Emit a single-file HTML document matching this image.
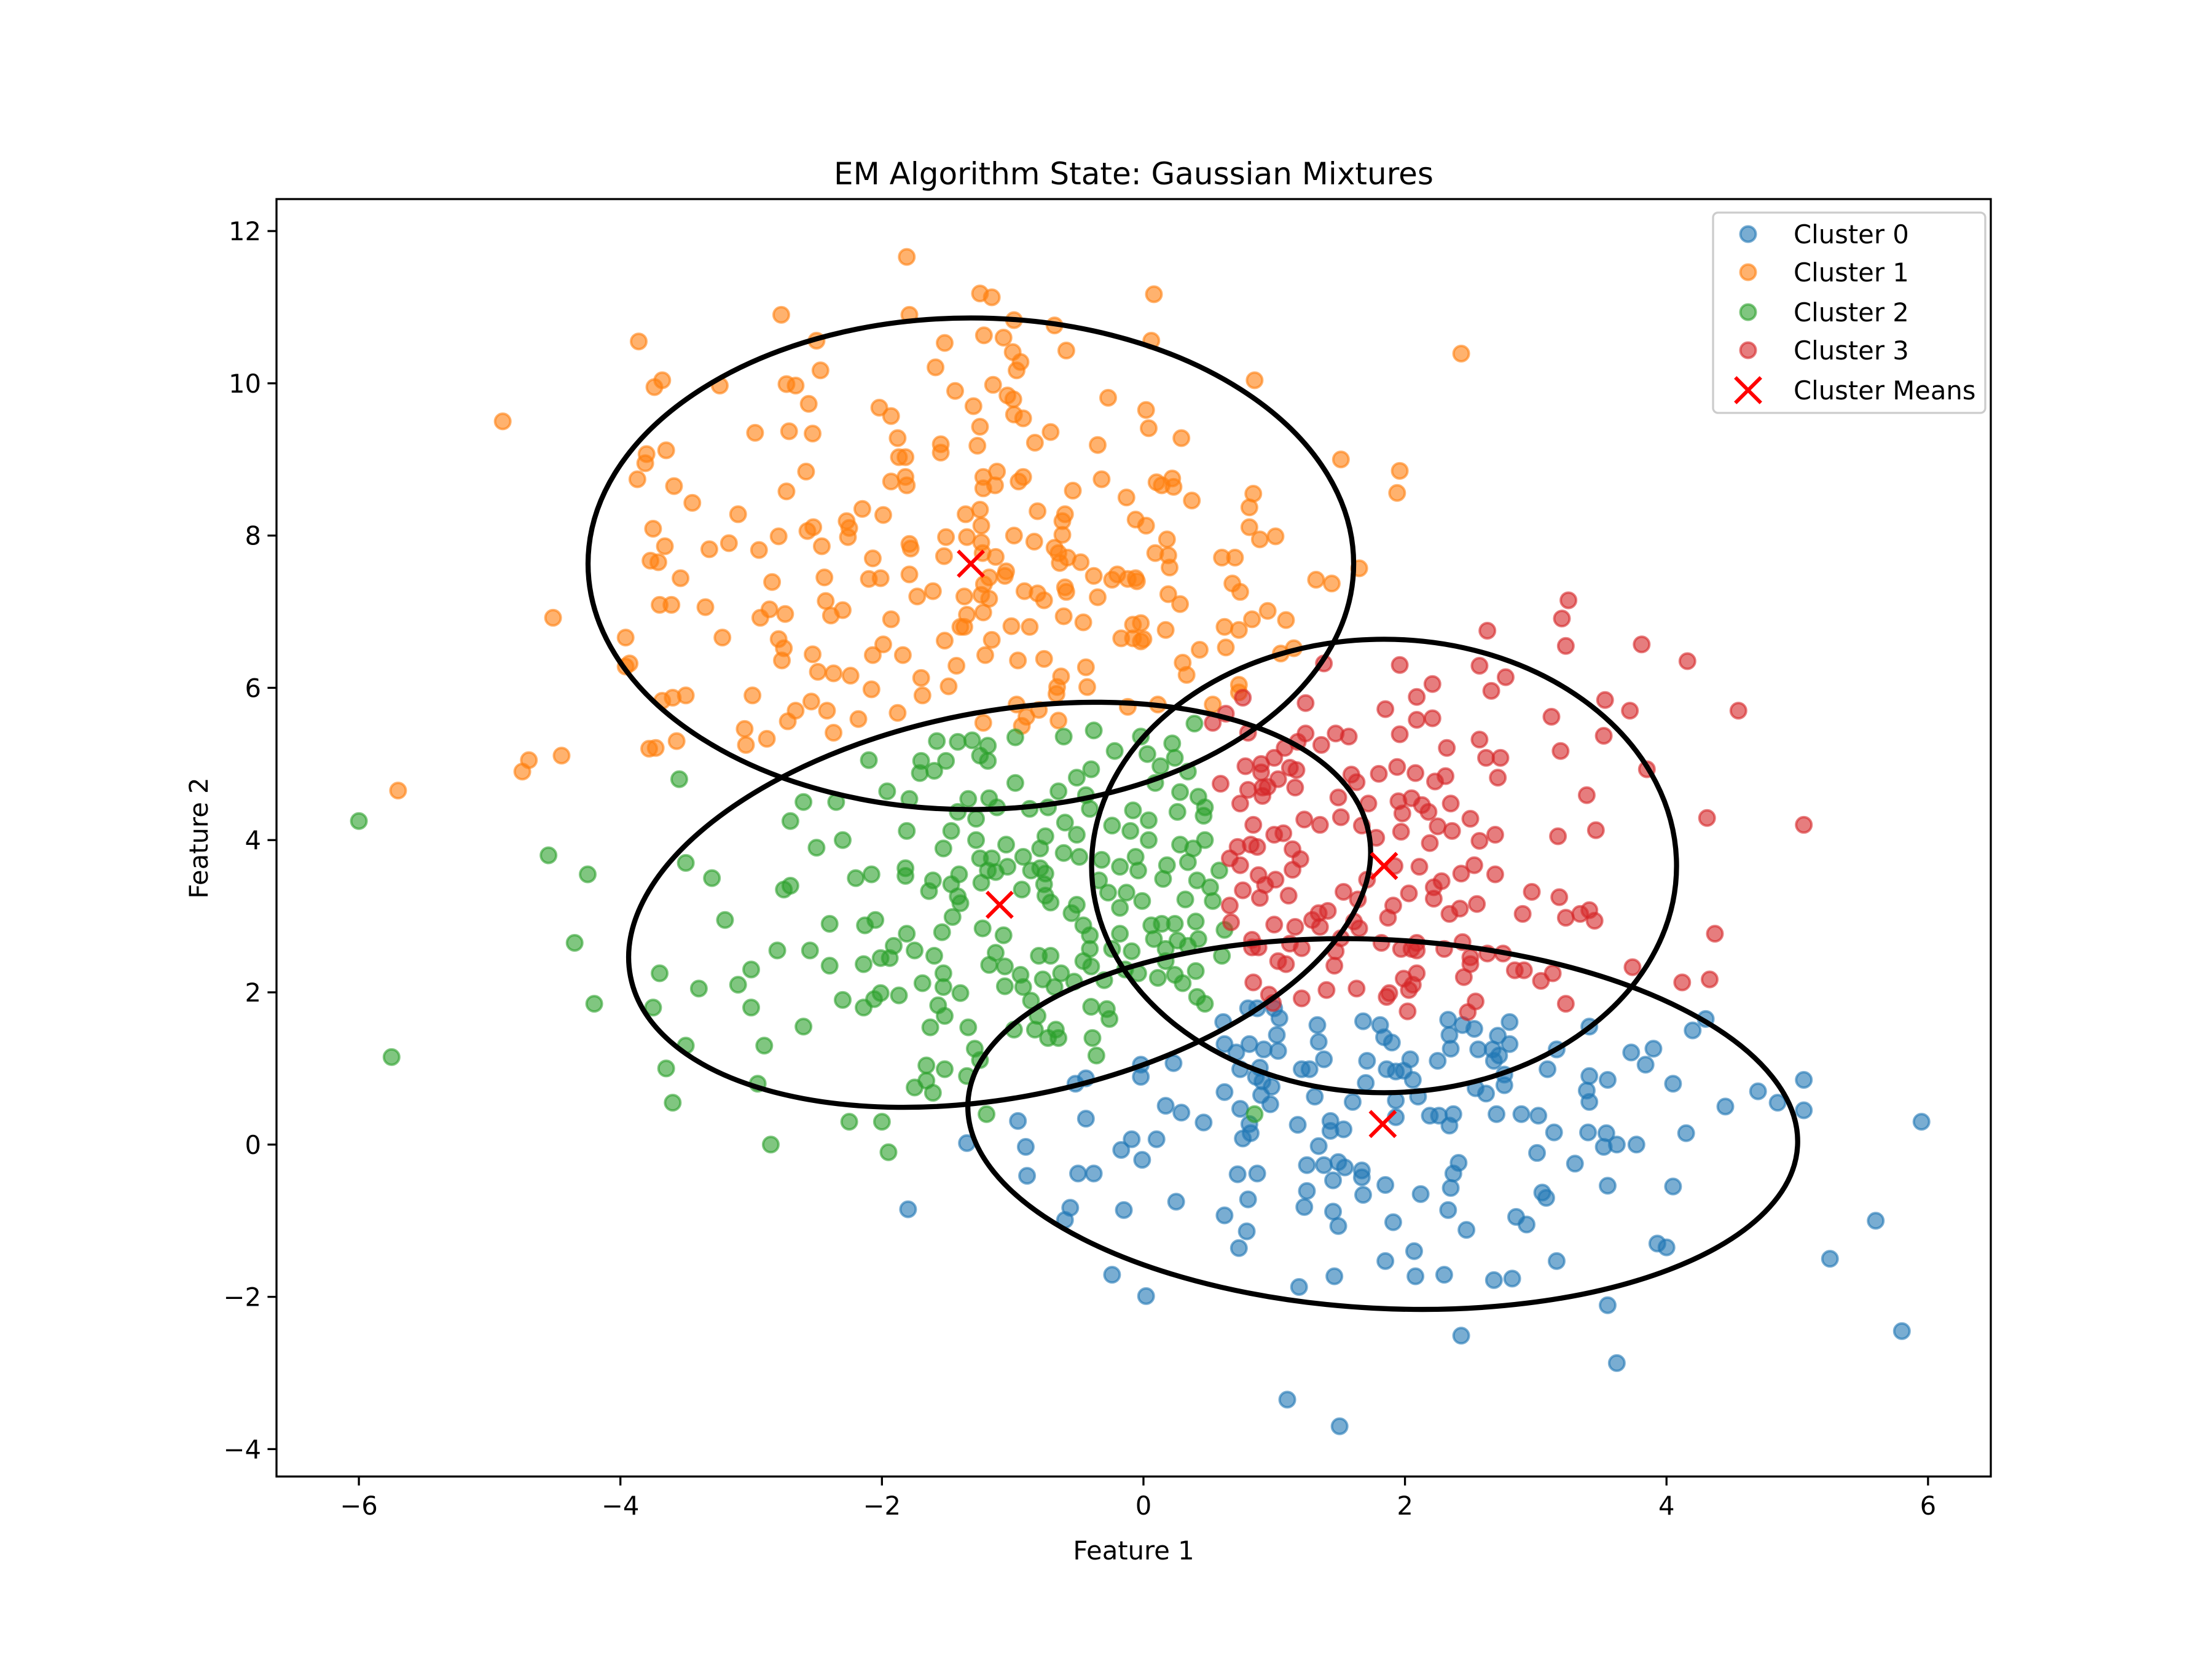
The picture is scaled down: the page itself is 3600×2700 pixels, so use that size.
<!DOCTYPE html>
<html><head><meta charset="utf-8"><style>
html,body{margin:0;padding:0;background:#fff;}
svg{display:block;font-family:"DejaVu Sans","Liberation Sans",sans-serif;}
</style></head><body>
<svg id="chart" width="3600" height="2700" xmlns="http://www.w3.org/2000/svg">
<rect width="3600" height="2700" fill="#fff"/>
<text x="1845" y="300" font-size="50" text-anchor="middle">EM Algorithm State: Gaussian Mixtures</text>
<text x="1845" y="2538" font-size="41.7" text-anchor="middle">Feature 1</text>
<text x="0" y="0" font-size="41.7" text-anchor="middle" transform="translate(338,1364) rotate(-90)">Feature 2</text>
<g id="marks"></g>
<g id="axes"></g>
<g id="legend"></g>
</svg>
<script>
const xTicks=[-6,-4,-2,0,2,4,6];
const yTicks=[-4,-2,0,2,4,6,8,10,12];
const seriesNames=["Cluster 0","Cluster 1","Cluster 2","Cluster 3"];
const cluster0=[[-1.8,-0.85],[4.0,-1.35],[4.05,0.8],[4.05,-0.55],[4.15,0.15],[4.2,1.5],[4.3,1.65],[4.45,0.5],[4.7,0.7],[4.85,0.55],[5.05,0.85],[5.05,0.45],[5.25,-1.5],[5.6,-1.0],[5.8,-2.45],[5.95,0.3],[1.1,-3.35],[1.5,-3.7],
[0.80,1.79],[0.87,1.79],[1.00,1.79],[1.04,1.66],[0.61,1.61],[1.33,1.57],[1.68,1.62],[1.81,1.57],[2.33,1.64],[2.44,1.57],[2.53,1.52],[2.80,1.61],[3.41,1.55],[1.02,1.44],[1.34,1.35],[1.84,1.41],[1.90,1.34],[2.34,1.44],[2.71,1.43],[2.80,1.32],[0.62,1.32],[0.81,1.32],[0.92,1.25],[1.03,1.23],[0.71,1.21],[2.35,1.26],[2.56,1.25],[2.67,1.25],[2.72,1.17],[3.16,1.25],[3.73,1.21],[3.90,1.26],[3.84,1.05],[1.38,1.12],[1.71,1.10],[2.04,1.12],[2.25,1.10],[2.68,1.10],[-0.02,1.05],[0.23,1.07],[0.74,0.99],[0.89,1.01],[1.21,0.99],[1.27,0.99],[1.86,0.99],[1.93,0.96],[1.99,0.97],[2.06,0.85],[2.76,0.92],[3.09,0.99],[3.41,0.90],[3.55,0.85],[-0.52,0.80],[-0.44,0.87],[-0.02,0.89],[0.86,0.89],[0.91,0.83],[0.98,0.76],[1.70,0.81],[2.76,0.78],[2.54,0.74],[2.62,0.67],[3.39,0.71],[3.41,0.56],[0.62,0.69],[0.90,0.65],[1.31,0.63],[1.60,0.56],[1.93,0.58],[2.10,0.63],[0.17,0.51],[0.29,0.42],[0.97,0.53],[0.74,0.47],[1.93,0.36],[2.19,0.38],[2.26,0.38],[2.37,0.40],[2.34,0.25],[2.70,0.40],[2.89,0.40],[3.02,0.38],[-0.96,0.31],[-0.44,0.34],[0.46,0.29],[0.81,0.27],[0.82,0.15],[0.76,0.08],[1.18,0.26],[1.43,0.31],[1.43,0.18],[1.53,0.20],[3.14,0.16],[3.40,0.16],[3.54,0.15],[3.52,-0.03],[3.62,0.00],[3.77,0.00],[-1.35,0.02],[-0.90,-0.03],[-0.09,0.07],[0.10,0.07],[-0.17,-0.07],[-0.01,-0.20],[1.34,-0.02],[3.01,-0.11],[3.30,-0.25],[2.41,-0.24],[-0.89,-0.41],[-0.50,-0.38],[-0.38,-0.38],[0.72,-0.39],[0.87,-0.38],[1.25,-0.27],[1.38,-0.27],[1.49,-0.23],[1.54,-0.30],[1.67,-0.34],[1.67,-0.43],[1.45,-0.47],[1.85,-0.53],[2.37,-0.38],[2.35,-0.57],[3.55,-0.54],[3.05,-0.63],[3.08,-0.70],[1.25,-0.61],[1.68,-0.66],[2.12,-0.65],[0.25,-0.75],[0.80,-0.72],[-0.56,-0.83],[-0.60,-0.99],[-0.15,-0.86],[0.62,-0.93],[1.23,-0.82],[1.45,-0.88],[2.33,-0.86],[1.91,-1.02],[1.49,-1.07],[2.85,-0.95],[2.93,-1.05],[2.47,-1.12],[0.79,-1.14],[0.73,-1.36],[2.07,-1.40],[1.85,-1.53],[3.16,-1.53],[3.93,-1.30],[-0.24,-1.71],[1.46,-1.73],[2.08,-1.73],[2.30,-1.71],[2.68,-1.78],[2.82,-1.76],[1.19,-1.87],[0.02,-1.99],[3.55,-2.11],[2.43,-2.51],[3.62,-2.87]];
const cluster1=[[-5.7,4.65],[-4.9,9.5],[-4.75,4.9],[-4.7,5.05],
[-1.81,11.66],[-1.25,11.18],[-1.16,11.13],[-2.77,10.90],[-1.79,10.90],[-0.99,10.83],[-3.86,10.55],[-2.50,10.56],[-1.52,10.53],[-1.22,10.63],[-1.07,10.60],[-1.00,10.41],[-0.94,10.28],[-0.97,10.17],[-1.59,10.21],[-2.47,10.17],[-3.74,9.95],[-3.68,10.04],[-3.24,9.97],[-2.73,9.99],[-2.66,9.97],[-1.15,9.98],[-1.44,9.90],[-1.04,9.84],[-0.995,9.79],[-0.99,9.59],[-0.92,9.54],[-1.30,9.70],[-2.56,9.73],[-2.02,9.68],[-1.93,9.57],[-1.25,9.43],[-2.97,9.35],[-2.71,9.37],[-2.53,9.34],[-1.88,9.28],[-1.55,9.20],[-1.55,9.09],[-1.27,9.18],[-0.83,9.22],[-3.80,9.07],[-3.81,8.95],[-3.65,9.12],[-3.87,8.74],[-2.58,8.84],[-1.87,9.03],[-1.82,9.03],[-1.82,8.77],[-1.93,8.71],[-1.81,8.66],[-1.225,8.77],[-1.12,8.84],[-1.135,8.66],[-1.225,8.62],[-0.955,8.71],[-0.92,8.77],[-3.59,8.65],[-3.45,8.43],[-2.73,8.58],[-3.10,8.28],[-2.15,8.35],[-1.99,8.27],[-1.36,8.28],[-1.25,8.34],[-0.81,8.32],[-3.75,8.09],[-3.66,7.86],[-3.32,7.82],[-3.17,7.90],[-2.94,7.81],[-2.79,7.99],[-2.57,8.06],[-2.525,8.11],[-2.46,7.86],[-2.27,8.19],[-2.25,8.10],[-2.26,7.98],[-2.07,7.70],[-1.79,7.89],[-1.78,7.83],[-1.51,7.98],[-1.35,7.98],[-1.24,8.13],[-1.24,7.91],[-1.23,7.77],[-1.13,7.72],[-0.99,8.00],[-0.835,7.92],[-1.525,7.73],[-3.77,7.67],[-3.71,7.65],[-3.54,7.44],[-2.84,7.39],[-2.44,7.45],[-2.10,7.43],[-2.01,7.44],[-1.79,7.49],[-1.18,7.45],[-1.05,7.53],[-1.06,7.47],[-1.22,7.36],[-1.73,7.20],[-1.61,7.27],[-1.37,7.20],[-1.24,7.22],[-1.18,7.17],[-0.91,7.27],[-0.81,7.24],[-0.76,7.15],[-3.70,7.09],[-3.61,7.09],[-3.35,7.06],[-4.515,6.92],[-2.86,7.03],[-2.74,6.97],[-2.93,6.92],[-2.43,7.14],[-2.30,7.02],[-2.39,6.95],[-1.93,6.90],[-1.35,6.96],[-1.225,6.99],[-1.37,6.80],[-1.40,6.80],[-1.01,6.81],[-0.87,6.80],[-3.96,6.66],[-3.22,6.66],[-2.79,6.64],[-2.75,6.52],[-2.765,6.36],[-2.53,6.44],[-1.99,6.57],[-2.07,6.43],[-1.84,6.43],[-1.52,6.62],[-1.16,6.63],[-1.21,6.43],[-0.96,6.36],[-0.76,6.38],[-3.93,6.32],[-3.96,6.28],[-1.43,6.29],[-2.49,6.21],[-2.37,6.19],[-2.24,6.16],[-1.70,6.13],[-2.08,5.98],[-1.49,6.02],[-1.69,5.90],[-2.99,5.90],[-3.68,5.83],[-3.60,5.87],[-3.50,5.90],[-2.54,5.82],[-2.66,5.70],[-2.42,5.70],[-2.72,5.56],[-2.18,5.59],[-1.88,5.67],[-1.225,5.54],[-0.97,5.78],[-0.895,5.62],[-0.80,5.71],[-0.93,5.50],[-3.05,5.46],[-2.88,5.33],[-3.04,5.25],[-3.78,5.20],[-3.73,5.21],[-3.57,5.30],[-2.37,5.41],[-4.45,5.11],
[0.08,11.17],[-0.68,10.76],[0.06,10.56],[-0.59,10.43],[2.43,10.39],[0.85,10.04],[-0.27,9.81],[0.02,9.65],[0.04,9.41],[-0.71,9.36],[-0.35,9.19],[0.29,9.28],[1.51,9.00],[1.96,8.85],[1.94,8.56],[-0.32,8.74],[-0.54,8.59],[-0.13,8.50],[0.10,8.70],[0.14,8.66],[0.22,8.75],[0.23,8.64],[0.37,8.46],[0.84,8.55],[0.81,8.37],[-0.60,8.28],[-0.62,8.19],[-0.62,8.01],[-0.06,8.21],[0.02,8.13],[0.18,7.95],[0.81,8.11],[0.89,7.95],[1.01,7.99],[-0.68,7.84],[-0.65,7.77],[-0.58,7.71],[-0.64,7.64],[-0.48,7.65],[0.09,7.77],[0.19,7.74],[0.20,7.58],[0.60,7.71],[0.70,7.71],[-0.38,7.47],[-0.20,7.49],[-0.24,7.42],[-0.12,7.43],[-0.06,7.44],[-0.05,7.40],[0.68,7.37],[0.74,7.26],[1.32,7.42],[1.44,7.37],[1.65,7.57],[-0.60,7.32],[-0.59,7.26],[-0.35,7.19],[0.19,7.23],[0.28,7.10],[-0.61,6.94],[-0.46,6.86],[-0.08,6.83],[-0.02,6.85],[0.17,6.76],[-0.17,6.65],[-0.08,6.65],[0.00,6.64],[-0.02,6.61],[0.62,6.80],[0.73,6.76],[0.83,6.90],[0.95,7.01],[1.09,6.89],[-0.44,6.27],[-0.63,6.15],[-0.66,6.01],[-0.43,6.01],[-0.665,5.92],[0.43,6.50],[0.63,6.53],[0.30,6.33],[0.33,6.17],[1.05,6.45],[1.15,6.52],[0.73,6.04],[0.73,5.94],[-0.12,5.75],[0.11,5.78],[0.53,5.78],[-0.65,5.57]];
const cluster2=[[-6.0,4.25],[-5.75,1.15],[-4.55,3.8],[-4.35,2.65],[-4.25,3.55],[-4.2,1.85],[-3.75,1.8],[-3.7,2.25],[-3.65,1.0],[-3.6,0.55],[-3.5,1.3],[-3.5,3.7],[-3.55,4.8],[-3.4,2.05],[-3.3,3.5],[-3.2,2.95],[-3.1,2.1],[-3.0,1.8],[-2.95,0.8],[-2.85,0.0],[-2.8,2.55],[-2.75,3.35],[-2.7,4.25],[-2.6,1.55],[-2.55,2.55],[-2.5,3.9],[-2.4,2.35],[-2.35,4.5],[-2.3,1.9],[-2.25,0.3],[-2.2,3.5],[-2.3,4.0],[-2.7,3.4],[-3.0,2.3],[-2.6,4.5],[-2.9,1.3],[-2.4,2.9],[-2.0,0.3],[-1.95,-0.1],[-1.2,0.4],[0.85,0.4],[-2.1,5.05],
[-1.58,5.30],[-1.42,5.29],[-1.31,5.31],[-1.19,5.24],[-1.70,5.04],[-1.51,5.04],[-1.25,5.11],[-1.19,5.04],[-1.71,4.88],[-1.60,4.91],[-1.96,4.64],[-1.79,4.54],[-0.98,4.75],[-0.98,5.35],[-0.61,5.36],[-0.38,5.44],[-0.22,5.17],[-0.02,5.36],[0.03,5.13],[0.22,5.27],[0.24,5.08],[0.39,5.53],[0.13,4.97],[0.34,4.90],[0.09,4.75],[-0.40,4.93],[-0.51,4.82],[-0.65,4.64],[-0.44,4.59],[-0.41,4.41],[-0.73,4.43],[-0.87,4.41],[-1.12,4.43],[-1.18,4.55],[-1.34,4.54],[-1.42,4.37],[-1.28,4.28],[-1.81,4.12],[-1.47,4.12],[-1.53,3.89],[-1.28,4.00],[-1.05,3.94],[-0.75,4.05],[-0.92,3.78],[-0.79,3.89],[-0.60,4.23],[-0.51,4.07],[-0.61,3.83],[-0.49,3.78],[-0.32,3.74],[-0.24,4.19],[-0.10,4.12],[0.04,4.00],[-0.06,3.78],[-0.04,3.60],[-0.18,3.65],[0.26,4.37],[0.04,4.26],[-0.08,4.39],[0.28,4.63],[0.42,4.57],[0.47,4.43],[0.46,4.32],[0.28,3.94],[0.38,3.89],[0.47,4.00],[0.34,3.71],[0.18,3.67],[0.15,3.49],[0.41,3.47],[0.58,3.60],[0.51,3.38],[0.53,3.20],[0.32,3.22],[-0.01,3.20],[-0.13,3.31],[-0.18,3.11],[-0.27,3.31],[-0.34,3.47],[-0.51,3.15],[-0.55,3.04],[-0.46,2.88],[-0.41,2.75],[-0.41,2.57],[-0.46,2.41],[-0.40,2.34],[-0.18,2.77],[0.06,2.88],[0.14,2.90],[0.24,2.90],[0.40,2.93],[0.62,2.82],[0.42,2.70],[0.26,2.68],[0.08,2.70],[0.17,2.57],[0.34,2.61],[0.60,2.48],[0.17,2.41],[-0.09,2.54],[-0.24,2.57],[-0.30,2.16],[-0.14,2.30],[-0.04,2.25],[0.11,2.19],[0.24,2.23],[0.30,2.12],[0.40,2.28],[0.41,1.94],[0.47,1.85],[-0.63,2.25],[-0.53,2.14],[-0.68,2.07],[-0.77,2.17],[-0.92,2.07],[-0.94,2.23],[-1.06,2.08],[-1.06,2.34],[-1.18,2.36],[-1.13,2.52],[-0.80,2.48],[-0.71,2.48],[-0.86,1.89],[-0.81,1.69],[-0.83,1.51],[-0.99,1.51],[-0.73,1.40],[-0.65,1.40],[-0.67,1.51],[-0.40,1.81],[-0.28,1.78],[-0.26,1.65],[-0.39,1.40],[-0.36,1.17],[-1.25,1.11],[-1.29,1.26],[-1.34,1.54],[-1.52,1.69],[-1.57,1.83],[-1.63,1.54],[-1.53,2.25],[-1.53,2.07],[-1.40,1.99],[-1.69,2.12],[-1.87,1.96],[-2.06,1.91],[-2.01,1.99],[-2.14,1.80],[-2.14,2.37],[-2.01,2.45],[-1.94,2.45],[-1.91,2.61],[-1.75,2.55],[-1.60,2.48],[-1.81,2.77],[-1.54,2.79],[-1.46,2.99],[-1.23,2.84],[-1.07,2.75],[-2.05,2.95],[-2.13,2.88],[-2.08,3.55],[-1.82,3.63],[-1.82,3.53],[-1.61,3.47],[-1.64,3.33],[-1.47,3.42],[-1.41,3.55],[-1.42,3.26],[-1.40,3.17],[-1.24,3.44],[-1.25,3.76],[-1.16,3.76],[-1.19,3.60],[-1.13,3.58],[-1.04,3.65],[-0.93,3.35],[-0.86,3.60],[-0.79,3.63],[-0.75,3.56],[-0.76,3.42],[-0.75,3.27],[-0.71,3.18],[-1.66,1.04],[-1.52,0.99],[-1.35,0.90],[-1.75,0.75],[-1.61,0.68],[-1.66,0.84]];
const cluster3=[[3.25,7.15],[4.55,5.7],[5.05,4.2],
[2.63,6.75],[3.20,6.91],[3.23,6.55],[3.81,6.57],[4.16,6.35],[1.38,6.32],[1.96,6.30],[2.57,6.29],[2.77,6.14],[2.21,6.05],[2.66,5.96],[2.09,5.88],[1.24,5.80],[1.85,5.72],[3.53,5.84],[3.72,5.70],[3.12,5.62],[2.09,5.58],[2.21,5.60],[0.76,5.87],[0.63,5.66],[0.53,5.54],[0.80,5.41],[1.24,5.40],[1.47,5.40],[1.57,5.36],[1.36,5.25],[1.18,5.29],[1.96,5.39],[2.57,5.32],[2.32,5.21],[3.52,5.37],[3.19,5.17],[2.62,5.08],[2.73,5.08],[2.71,4.82],[3.85,4.93],[1.08,5.21],[1.00,5.08],[0.78,4.97],[0.90,5.00],[0.90,4.89],[1.12,4.95],[1.17,4.92],[1.03,4.80],[0.59,4.74],[0.80,4.66],[0.91,4.69],[0.95,4.70],[0.91,4.58],[0.74,4.48],[1.16,4.69],[1.59,4.86],[1.63,4.76],[1.80,4.87],[1.94,4.96],[2.08,4.88],[2.23,4.77],[2.31,4.84],[3.39,4.59],[4.31,4.29],[1.49,4.56],[1.72,4.48],[1.95,4.51],[2.05,4.55],[2.13,4.46],[2.18,4.37],[1.98,4.35],[2.35,4.48],[2.50,4.28],[0.84,4.20],[1.23,4.27],[1.35,4.20],[1.51,4.30],[1.00,4.07],[1.07,4.09],[1.67,4.19],[1.78,4.03],[1.97,4.11],[2.25,4.18],[2.36,4.12],[2.19,3.96],[2.57,3.99],[2.69,4.07],[3.17,4.05],[3.46,4.13],[0.72,3.91],[0.82,3.94],[0.87,3.91],[1.14,3.88],[1.20,3.75],[1.14,3.61],[0.66,3.76],[0.74,3.67],[0.88,3.54],[1.01,3.48],[0.76,3.34],[0.93,3.41],[0.89,3.24],[1.11,3.27],[1.71,3.48],[1.92,3.66],[2.11,3.65],[2.43,3.56],[2.53,3.67],[2.69,3.55],[2.22,3.38],[2.28,3.46],[2.22,3.23],[2.03,3.30],[1.53,3.32],[1.64,3.22],[1.91,3.14],[1.87,2.98],[2.34,3.03],[2.42,3.10],[2.55,3.16],[2.97,3.32],[3.18,3.25],[2.90,3.03],[3.23,2.98],[3.34,3.03],[3.41,3.08],[3.45,2.94],[4.37,2.77],[0.66,3.14],[0.67,2.92],[1.00,2.89],[1.16,2.86],[1.29,2.95],[1.34,3.04],[1.41,3.07],[1.35,2.86],[1.61,2.93],[1.65,2.84],[1.51,2.71],[0.83,2.69],[0.83,2.59],[0.88,2.59],[1.12,2.64],[1.21,2.58],[1.47,2.54],[1.46,2.35],[1.03,2.41],[1.09,2.37],[0.84,2.13],[0.96,1.97],[0.99,1.86],[1.21,1.92],[1.40,2.03],[1.63,2.05],[1.82,2.65],[1.97,2.57],[2.05,2.57],[2.09,2.65],[2.09,2.55],[2.30,2.57],[2.44,2.66],[2.50,2.46],[2.50,2.37],[2.45,2.20],[2.63,2.51],[2.75,2.51],[2.84,2.29],[2.91,2.29],[3.04,2.15],[3.13,2.25],[1.99,2.18],[2.09,2.25],[2.06,2.10],[2.03,2.03],[1.88,1.99],[1.86,1.94],[2.02,1.75],[2.54,1.88],[2.48,1.74],[3.23,1.85],[3.74,2.33],[4.12,2.13],[4.33,2.17]];
const meansX=[1.83,-1.32,-1.1,1.84];
const meansY=[0.27,7.63,3.15,3.66];
const ellipseSemiA=[676,623,612,476];
const ellipseSemiB=[300,400,314,369];
const ellipseAngle=[3,0,-11,0];
const colors=["#1f77b4","#ff7f0e","#2ca02c","#d62728"];
const L=450,R=3240,T=324,B=2403,xmin=-6.63,xmax=6.48,ymin=-4.36,ymax=12.42;
function sx(v){return L+(v-xmin)/(xmax-xmin)*(R-L);}
function sy(v){return B-(v-ymin)/(ymax-ymin)*(B-T);}
const NS="http://www.w3.org/2000/svg";
function mk(tag,attrs,parent){const e=document.createElementNS(NS,tag);for(const k in attrs)e.setAttribute(k,attrs[k]);parent.appendChild(e);return e;}
const marks=document.getElementById('marks');
const data=[cluster0,cluster1,cluster2,cluster3];
data.forEach((pts,ci)=>{
  const g=mk('g',{},marks);
  
  
  pts.forEach(p=>{
    const c=mk('circle',{cx:sx(p[0]),cy:sy(p[1]),r:12.5,fill:colors[ci],'fill-opacity':0.6,stroke:colors[ci],'stroke-opacity':0.6,'stroke-width':4},g);
    
    
  });
});
for(let i=0;i<4;i++){
  const cx=sx(meansX[i]),cy=sy(meansY[i]);
  const e=mk('ellipse',{cx:cx,cy:cy,rx:ellipseSemiA[i],ry:ellipseSemiB[i],fill:'none',stroke:'#000','stroke-width':8.3,transform:`rotate(${ellipseAngle[i]} ${cx} ${cy})`},marks);
  
  
}
for(let i=0;i<4;i++){
  const cx=sx(meansX[i]),cy=sy(meansY[i]),d=20.8;
  const m=mk('path',{d:`M${cx-d},${cy-d}L${cx+d},${cy+d}M${cx-d},${cy+d}L${cx+d},${cy-d}`,stroke:'red','stroke-width':6},marks);
  
  
}
const axes=document.getElementById('axes');
const frame=mk('rect',{x:L,y:T,width:R-L,height:B-T,fill:'none',stroke:'#000','stroke-width':3.3},axes);


xTicks.forEach(v=>{
  const x=sx(v);
  const t=mk('line',{x1:x,y1:B,x2:x,y2:B+14.6,stroke:'#000','stroke-width':3.3},axes);
  
  
  const l=mk('text',{x:x,y:B+62,'font-size':41.7,'text-anchor':'middle'},axes);
  l.textContent=(v<0?'\u2212'+(-v):String(v));
  
  
});
yTicks.forEach(v=>{
  const y=sy(v);
  const t=mk('line',{x1:L-14.6,y1:y,x2:L,y2:y,stroke:'#000','stroke-width':3.3},axes);
  
  
  const l=mk('text',{x:L-25,y:y+15,'font-size':41.7,'text-anchor':'end'},axes);
  l.textContent=(v<0?'\u2212'+(-v):String(v));
  
  
});
const leg=document.getElementById('legend');
const box=mk('rect',{x:2788,y:346,width:443,height:326,rx:8,fill:'#fff','fill-opacity':0.8,stroke:'#ccc','stroke-width':3.3},leg);


const legY=[381,443,508,570,635];
const legLabels=seriesNames.concat(["Cluster Means"]);
legLabels.forEach((name,i)=>{
  const y=legY[i];
  if(i<4){
    const c=mk('circle',{cx:2845,cy:y,r:12.5,fill:colors[i],'fill-opacity':0.6,stroke:colors[i],'stroke-opacity':0.6,'stroke-width':4},leg);
    
    
  } else {
    const d=20.8;
    const m=mk('path',{d:`M${2845-d},${y-d}L${2845+d},${y+d}M${2845-d},${y+d}L${2845+d},${y-d}`,stroke:'red','stroke-width':6},leg);
    
    
  }
  const t=mk('text',{x:2919,y:y+15,'font-size':41.7},leg);
  t.textContent=name;
  
  
});
</script>
</body></html>
